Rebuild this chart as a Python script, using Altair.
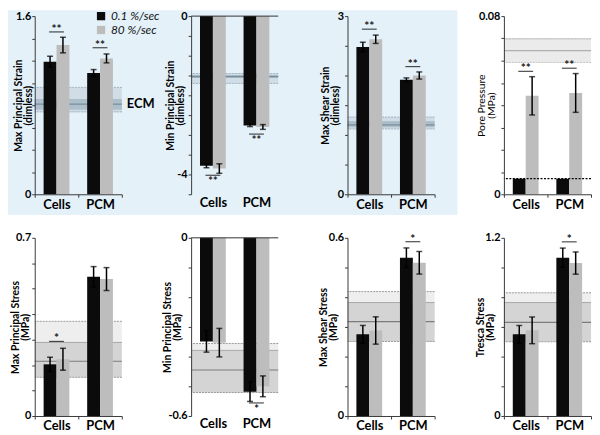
import altair as alt
import pandas as pd

FONT = "Lato"
BLACK = "#0b0b0b"
GRAY = "#bdbdbd"
BLUE_BG = "#e4f1f9"

CATEGORIES = ["Cells", "PCM"]
RATES = ["0.1 %/sec", "80 %/sec"]

# order: Cells-0.1, Cells-80, PCM-0.1, PCM-80
MAX_P_STRAIN = [1.19, 1.34, 1.09, 1.22]
MAX_P_STRAIN_ERR = [0.05, 0.07, 0.03, 0.04]
MIN_P_STRAIN = [-3.78, -3.85, -2.76, -2.80]
MIN_P_STRAIN_ERR = [0.05, 0.12, 0.03, 0.06]
MAX_SH_STRAIN = [2.48, 2.61, 1.93, 2.00]
MAX_SH_STRAIN_ERR = [0.08, 0.07, 0.03, 0.06]
PORE_P = [0.007, 0.0442, 0.007, 0.0455]
PORE_P_ERR = [0.0, 0.0086, 0.0, 0.0087]
MAX_P_STRESS = [0.203, 0.223, 0.547, 0.538]
MAX_P_STRESS_ERR = [0.028, 0.043, 0.04, 0.045]
MIN_P_STRESS = [-0.349, -0.353, -0.518, -0.50]
MIN_P_STRESS_ERR = [0.036, 0.048, 0.033, 0.035]
MAX_SH_STRESS = [0.275, 0.288, 0.533, 0.516]
MAX_SH_STRESS_ERR = [0.03, 0.046, 0.033, 0.038]
TRESCA = [0.55, 0.577, 1.066, 1.03]
TRESCA_ERR = [0.06, 0.09, 0.065, 0.075]

# ECM bands: outer lo, outer hi, inner lo, inner hi, centre
ECM_MAX_P_STRAIN = [0.74, 0.96, 0.76, 0.85, 0.81]
ECM_MIN_P_STRAIN = [-1.70, -1.45, -1.56, -1.50, -1.53]
ECM_MAX_SH_STRAIN = [1.10, 1.30, 1.13, 1.22, 1.17]
ECM_PORE_P = [0.0592, 0.0698, 0.0592, 0.0698, 0.0645]
ECM_MAX_P_STRESS = [0.152, 0.372, 0.152, 0.289, 0.215]
ECM_MIN_P_STRESS = [-0.521, -0.356, -0.521, -0.379, -0.445]
ECM_MAX_SH_STRESS = [0.251, 0.419, 0.251, 0.382, 0.318]
ECM_TRESCA = [0.50, 0.83, 0.50, 0.764, 0.63]

# significance brackets
SIG_MAX_P_STRAIN = (["Cells", "PCM"], [1.458, 1.316], ["**", "**"])
SIG_MIN_P_STRAIN = (["Cells", "PCM"], [-4.02, -2.98], ["**", "**"])
SIG_MAX_SH_STRAIN = (["Cells", "PCM"], [2.78, 2.15], ["**", "**"])
SIG_PORE_P = (["Cells", "PCM"], [0.0552, 0.0566], ["**", "**"])
SIG_MAX_P_STRESS = (["Cells"], [0.293], ["*"])
SIG_MIN_P_STRESS = (["PCM"], [-0.556], ["*"])
SIG_MAX_SH_STRESS = (["PCM"], [0.587], ["*"])
SIG_TRESCA = (["PCM"], [1.173], ["*"])

PORE_BASELINE = [0.007]

TOP_BAND = dict(outer="#d0dde6", inner="#adbfcb", center="#7a8d9b", edge="#9fb2bf")
PORE_BAND = dict(outer="#ebebeb", inner="#ebebeb", center="#b0b0b0", edge="#c4c4c4")
BOT_BAND = dict(outer="#eeeeee", inner="#d4d4d4", center="#7c7c7c", edge="#9a9a9a")

W = 88
H = 180


def bar_frame(vals, errs):
    rows = []
    for i, c in enumerate(CATEGORIES):
        for j, r in enumerate(RATES):
            k = i * 2 + j
            rows.append({"cat": c, "rate": r, "v": vals[k], "err": errs[k],
                         "lo": vals[k] - errs[k], "hi": vals[k] + errs[k]})
    return pd.DataFrame(rows)


def panel(vals, errs, title, dom, step, lab, ecm, sig, below, tx, band,
          legend=False, top_line=False, baseline=None, blue=False, ecm_label=False,
          title_weight="bold"):
    n = int(round((dom[1] - dom[0]) / step))
    tvals = [round(dom[0] + i * step, 4) for i in range(n + 1)]
    expr = " : ".join([f"datum.value === {k} ? '{v}'" for k, v in lab.items()]) + " : ''"
    yaxis = alt.Axis(values=tvals, labelExpr=expr, title=title, titleX=tx, titleY=H / 2,
                     titleBaseline="bottom", titleAlign="center", titleAngle=-90,
                     titleFontWeight=title_weight,
                     grid=False, tickSize=3, labelPadding=1, titleLineHeight=10, zindex=2)
    xaxis = alt.Axis(title=None, labelAngle=0, tickBand="extent", tickSize=3,
                     labelPadding=2 if top_line else 1,
                     domain=not top_line, ticks=not top_line, zindex=2)
    ysc = alt.Scale(domain=dom, nice=False, zero=False)
    xsc = alt.Scale(domain=CATEGORIES, paddingInner=0, paddingOuter=0)
    osc = alt.Scale(domain=RATES, paddingInner=0, paddingOuter=0.69)

    def X():
        return alt.X("cat:N", scale=xsc, axis=xaxis)

    def XO():
        return alt.XOffset("rate:N", scale=osc)

    def Y(f):
        return alt.Y(f"{f}:Q", scale=ysc, axis=yaxis)

    df = bar_frame(vals, errs)
    layers = []
    if blue:
        layers.append(alt.Chart(pd.DataFrame({"a": [0]})).mark_rect(color=BLUE_BG).encode(
            x=alt.value(-27), x2=alt.value(427), y=alt.value(-6), y2=alt.value(201)))
    ecm_df = pd.DataFrame({"olo": [ecm[0]], "ohi": [ecm[1]], "ilo": [ecm[2]],
                           "ihi": [ecm[3]], "c": [ecm[4]]})
    e = alt.Chart(ecm_df)
    layers.append(e.mark_rect(color=band["outer"]).encode(y=Y("olo"), y2="ohi"))
    layers.append(e.mark_rect(color=band["inner"]).encode(y=Y("ilo"), y2="ihi"))
    layers.append(e.mark_rule(color=band["edge"], strokeDash=[2, 1], strokeWidth=1).encode(y=Y("olo")))
    layers.append(e.mark_rule(color=band["edge"], strokeDash=[2, 1], strokeWidth=1).encode(y=Y("ohi")))
    layers.append(e.mark_rule(color=band["edge"], strokeWidth=0.8).encode(y=Y("ihi")))
    layers.append(e.mark_rule(color=band["center"], strokeWidth=1.2).encode(y=Y("c")))

    leg = None
    if legend:
        leg = alt.Legend(orient="none", legendX=61, legendY=-6, title=None, symbolType="square",
                         symbolSize=70, symbolStrokeWidth=0, labelFontStyle="italic",
                         labelFontSize=12, labelFont=FONT, labelColor="#111", rowPadding=2,
                         padding=0, zindex=2, labelOffset=4)
    col = alt.Color("rate:N", scale=alt.Scale(domain=RATES, range=[BLACK, GRAY]), legend=leg)
    b = alt.Chart(df)
    layers.append(b.mark_bar().encode(x=X(), xOffset=XO(), y=Y("v"), color=col))

    edf = df[df["err"] > 0]
    eb = alt.Chart(edf)
    layers.append(eb.mark_rule(color="black", strokeWidth=1.5).encode(
        x=X(), xOffset=XO(), y=Y("lo"), y2="hi"))
    caps = pd.concat([edf[["cat", "rate"]].assign(yv=edf["lo"]),
                      edf[["cat", "rate"]].assign(yv=edf["hi"])])
    layers.append(alt.Chart(caps).mark_tick(color="black", thickness=1.5, size=6,
                                            orient="horizontal").encode(
        x=X(), xOffset=XO(), y=Y("yv")))

    if baseline is not None:
        layers.append(alt.Chart(pd.DataFrame({"b": baseline})).mark_rule(
            color="black", strokeDash=[2, 1.5], strokeWidth=1.3).encode(y=Y("b")))

    if top_line:
        layers.append(alt.Chart(pd.DataFrame({"z": [0.0]})).mark_rule(
            color="#333", strokeWidth=1).encode(y=Y("z")))

    sdf = pd.DataFrame({"cat": sig[0], "y": sig[1], "t": sig[2]})
    s = alt.Chart(sdf)
    layers.append(s.mark_tick(color="black", thickness=1.2, size=15, orient="horizontal").encode(
        x=X(), y=Y("y")))
    if below:
        st = s.mark_text(font=FONT, fontSize=11, fontWeight="bold", color="#222",
                         dy=1, baseline="top")
    else:
        st = s.mark_text(font=FONT, fontSize=12, fontWeight="bold", color="#222",
                         dy=-3, baseline="middle")
    layers.append(st.encode(x=X(), y=Y("y"), text="t:N"))

    if ecm_label:
        layers.append(e.mark_text(text="ECM", font=FONT, fontSize=13, fontWeight="bold",
                                  align="left", color="black").encode(
            x=alt.value(93), y=Y("c")))

    return alt.layer(*layers).properties(width=W, height=H)


p1 = panel(MAX_P_STRAIN, MAX_P_STRAIN_ERR, ["Max Principal Strain", "(dimless)"], [0, 1.6], 0.2,
           {0: "0", 1.6: "1.6"}, ECM_MAX_P_STRAIN, SIG_MAX_P_STRAIN, False, -11, TOP_BAND,
           legend=True, blue=True, ecm_label=True)
p2 = panel(MIN_P_STRAIN, MIN_P_STRAIN_ERR, ["Min Principal Strain", "(dimless)"], [-4.5, 0], 0.5,
           {0: "0", -4: "-4"}, ECM_MIN_P_STRAIN, SIG_MIN_P_STRAIN, True, -16, TOP_BAND,
           top_line=True)
p3 = panel(MAX_SH_STRAIN, MAX_SH_STRAIN_ERR, ["Max Shear Strain", "(dimless)"], [0, 3], 0.5,
           {0: "0", 3: "3"}, ECM_MAX_SH_STRAIN, SIG_MAX_SH_STRAIN, False, -17, TOP_BAND)
p4 = panel(PORE_P, PORE_P_ERR, ["Pore Pressure", "(MPa)"], [0, 0.08], 0.01,
           {0: "0", 0.08: "0.08"}, ECM_PORE_P, SIG_PORE_P, False, -18, PORE_BAND,
           baseline=PORE_BASELINE, title_weight="normal")
p5 = panel(MAX_P_STRESS, MAX_P_STRESS_ERR, ["Max Principal Stress", "(MPa)"], [0, 0.7], 0.1,
           {0: "0", 0.7: "0.7"}, ECM_MAX_P_STRESS, SIG_MAX_P_STRESS, False, -14, BOT_BAND)
p6 = panel(MIN_P_STRESS, MIN_P_STRESS_ERR, ["Min Principal Stress", "(MPa)"], [-0.6, 0], 0.1,
           {0: "0", -0.6: "-0.6"}, ECM_MIN_P_STRESS, SIG_MIN_P_STRESS, True, -19, BOT_BAND,
           top_line=True)
p7 = panel(MAX_SH_STRESS, MAX_SH_STRESS_ERR, ["Max Shear Stress", "(MPa)"], [0, 0.6], 0.1,
           {0: "0", 0.6: "0.6"}, ECM_MAX_SH_STRESS, SIG_MAX_SH_STRESS, False, -19, BOT_BAND)
p8 = panel(TRESCA, TRESCA_ERR, ["Tresca Stress", "(MPa)"], [0, 1.2], 0.2,
           {0: "0", 1.2: "1.2"}, ECM_TRESCA, SIG_TRESCA, False, -19, BOT_BAND)

chart = alt.concat(p1, p2, p3, p4, p5, p6, p7, p8, columns=4, bounds="flush",
                   spacing={"row": 44, "column": 70}).resolve_scale(
    color="independent", x="independent", y="independent").resolve_legend(
    color="independent").configure_view(stroke=None).configure_axis(
    domainColor="#3a3a3a", tickColor="#3a3a3a", labelFont=FONT, titleFont=FONT,
    labelFontWeight="bold", labelColor="black", titleColor="black",
    labelFontSize=11, titleFontSize=10.5).configure_axisX(labelFontSize=13).properties(
    padding=0, background="white")

chart.save("out.html", embed_options={"renderer": "svg", "actions": False})
